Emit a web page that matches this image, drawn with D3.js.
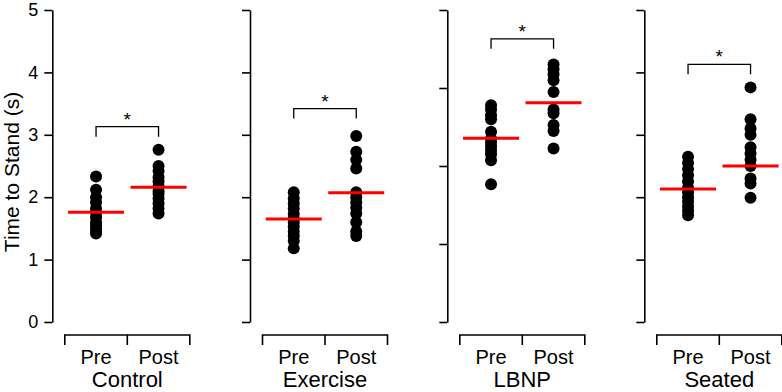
<!DOCTYPE html>
<html><head><meta charset="utf-8">
<script src="https://cdn.jsdelivr.net/npm/d3@7"></script>
<style>body{margin:0;background:#fff}svg{display:block}text{font-family:"Liberation Sans",Arial,Helvetica,sans-serif}</style>
</head><body><svg id="c" width="782" height="392"></svg>
<script>
const groups = ["Control", "Exercise", "LBNP", "Seated"];
const phases = ["Pre", "Post"];
const yMax = [5, 5, 8, 5];
const yTicks = [[0,1,2,3,4,5],[0,1,2,3,4,5],[0,2,4,6,8],[0,1,2,3,4,5]];
const yTickLabels = ["0","1","2","3","4","5"];
const preValues = [
  [2.33, 2.12, 2.0, 1.92, 1.82, 1.75, 1.68, 1.6, 1.55, 1.5, 1.45, 1.42],
  [2.08, 1.98, 1.9, 1.82, 1.73, 1.66, 1.6, 1.53, 1.45, 1.38, 1.3, 1.18],
  [5.56, 5.45, 5.3, 5.2, 4.88, 4.7, 4.6, 4.5, 4.4, 4.3, 4.15, 3.53],
  [2.65, 2.55, 2.45, 2.35, 2.25, 2.15, 2.08, 2.0, 1.93, 1.85, 1.78, 1.71]
];
const postValues = [
  [2.76, 2.5, 2.42, 2.32, 2.25, 2.18, 2.1, 2.05, 1.98, 1.9, 1.82, 1.74],
  [2.98, 2.73, 2.6, 2.46, 2.08, 2.0, 1.92, 1.83, 1.74, 1.6, 1.45, 1.38],
  [6.6, 6.48, 6.35, 6.2, 5.9, 5.45, 5.35, 5.05, 4.9, 4.45],
  [3.76, 3.25, 3.1, 3.0, 2.8, 2.7, 2.6, 2.5, 2.3, 2.22, 1.99]
];
const preMeans = [1.76, 1.65, 4.71, 2.13];
const postMeans = [2.16, 2.07, 5.62, 2.50];
const sigLevel = [3.13, 3.42, 7.26, 4.13];
const yTitle = "Time to Stand (s)";

const svg = d3.select("#c");
const yTop = 10, yBottom = 322;
const axisX = [52.3, 250, 447.3, 644.3];

groups.forEach((g, i) => {
  const y = d3.scaleLinear().domain([0, yMax[i]]).range([yBottom, yTop]);
  const x = d3.scalePoint().domain(phases).range([axisX[i] + 12.5, axisX[i] + 137.5]).padding(0.5);
  const panel = svg.append("g");

  const ax = d3.axisLeft(y).tickValues(yTicks[i]).tickSize(8).tickSizeOuter(0)
    .tickFormat((d, k) => i === 0 ? yTickLabels[k] : "");
  const ag = panel.append("g").attr("transform", `translate(${axisX[i]},0)`).call(ax);
  ag.select(".domain").attr("stroke", "#000").attr("stroke-width", 1.6);
  ag.selectAll(".tick line").attr("stroke", "#000").attr("stroke-width", 1.6);
  ag.selectAll(".tick text").attr("font-size", 18).attr("fill", "#000").attr("x", -14)
    .attr("font-family", '"Liberation Sans",Arial,sans-serif');

  const [r0, r1] = x.range();
  panel.append("path").attr("fill", "none").attr("stroke", "#000").attr("stroke-width", 1.6)
    .attr("d", `M${r0},345V335H${r1}V345M${(r0 + r1) / 2},335V345`);
  phases.forEach(p => {
    panel.append("text").attr("x", x(p)).attr("y", 363.5).attr("text-anchor", "middle")
      .attr("font-size", 20).text(p);
  });
  panel.append("text").attr("x", (r0 + r1) / 2).attr("y", 387).attr("text-anchor", "middle")
    .attr("font-size", 22).text(g);

  const vals = [preValues[i], postValues[i]];
  vals.forEach((arr, k) => {
    panel.selectAll(null).data(arr).enter().append("circle")
      .attr("cx", x(phases[k])).attr("cy", d => y(d)).attr("r", 6).attr("fill", "#000");
  });
  [preMeans[i], postMeans[i]].forEach((m, k) => {
    panel.append("line").attr("x1", x(phases[k]) - 28).attr("x2", x(phases[k]) + 28)
      .attr("y1", y(m)).attr("y2", y(m)).attr("stroke", "#ff0000").attr("stroke-width", 3);
  });
  const sy = y(sigLevel[i]);
  panel.append("path").attr("fill", "none").attr("stroke", "#000").attr("stroke-width", 1.3)
    .attr("d", `M${x("Pre")},${sy + 10}V${sy}H${x("Post")}V${sy + 10}`);
  panel.append("text").attr("x", (x("Pre") + x("Post")) / 2).attr("y", sy - 1)
    .attr("text-anchor", "middle").attr("font-size", 19).text("*");
});

svg.append("text").attr("transform", `translate(19,172) rotate(-90)`)
  .attr("text-anchor", "middle").attr("font-size", 21).text(yTitle);
</script></body></html>
